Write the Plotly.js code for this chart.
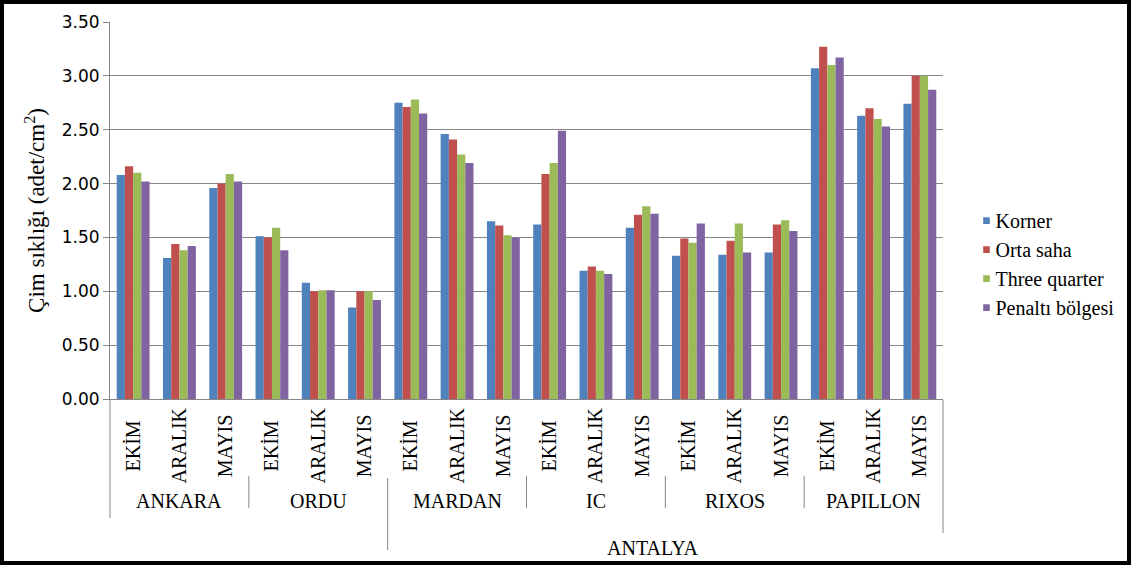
<!DOCTYPE html>
<html>
<head>
<meta charset="utf-8">
<script src="https://cdn.plot.ly/plotly-3.0.1.min.js"></script>
<style>
  html, body { margin: 0; padding: 0; background: #fff; }
  #wrap { position: relative; width: 1136px; height: 565px; }
  #chart { position: absolute; left: 0; top: 0; width: 1136px; height: 565px; }
  #frame { position: absolute; left: 0; top: 0; width: 1131px; height: 565px;
           box-sizing: border-box; border: 4px solid #000; pointer-events: none; }
</style>
</head>
<body>
<div id="wrap">
  <div id="chart"></div>
  <div id="frame"></div>
</div>
<script>
// Sampling sites and months
const locations = ['ANKARA', 'ORDU', 'MARDAN', 'IC', 'RIXOS', 'PAPILLON'];
const months = ['EKİM', 'ARALIK', 'MAYIS'];

// Sites belonging to the Antalya province
const provinceName = 'ANTALYA';
const provinceSites = ['MARDAN', 'IC', 'RIXOS', 'PAPILLON'];

// Grass density (adet/cm²) per site and month, by field zone
const korner  = [2.08, 1.31, 1.96, 1.51, 1.08, 0.85, 2.75, 2.46, 1.65, 1.62, 1.19, 1.59, 1.33, 1.34, 1.36, 3.07, 2.63, 2.74];
const ortaSaha = [2.16, 1.44, 2.00, 1.50, 1.00, 1.00, 2.71, 2.41, 1.61, 2.09, 1.23, 1.71, 1.49, 1.47, 1.62, 3.27, 2.70, 3.00];
const threeQuarter = [2.10, 1.38, 2.09, 1.59, 1.01, 1.00, 2.78, 2.27, 1.52, 2.19, 1.19, 1.79, 1.45, 1.63, 1.66, 3.10, 2.60, 3.00];
const penalti = [2.02, 1.42, 2.02, 1.38, 1.01, 0.92, 2.65, 2.19, 1.50, 2.49, 1.16, 1.72, 1.63, 1.36, 1.56, 3.17, 2.53, 2.87];

const seriesNames = ['Korner', 'Orta saha', 'Three quarter', 'Penaltı bölgesi'];
const seriesColors = ['#4F81BD', '#C0504D', '#9BBB59', '#8064A2'];
const seriesValues = [korner, ortaSaha, threeQuarter, penalti];

// One category per site/month pair; the axis shows only the month
const catKeys = [], catMonths = [];
locations.forEach(loc => months.forEach(m => { catKeys.push(loc + ' ' + m); catMonths.push(m); }));

const traces = seriesValues.map((vals, i) => ({
  type: 'bar',
  name: seriesNames[i],
  x: catKeys,
  y: vals,
  marker: { color: seriesColors[i], line: { width: 0 } },
  hoverinfo: 'y'
}));

// Axis area geometry in pixels (used to convert decorations to paper units)
const M = { l: 110, r: 193, t: 22, b: 166 };
const plotH = 565 - M.t - M.b;
const yPix = p => (565 - M.b - p) / plotH;   // pixel row -> paper y
const nCat = catKeys.length;
const xEdge = k => k / nCat;                 // category boundary -> paper x

const axisGrey = '#868686';
const serif = 'Liberation Serif';

// Divider lines under the category axis
const shapes = [];
function vline(k, top, bottom) {
  shapes.push({ type: 'line', xref: 'paper', yref: 'paper',
    x0: xEdge(k), x1: xEdge(k), y0: yPix(top), y1: yPix(bottom),
    line: { color: axisGrey, width: 1 } });
}
const nM = months.length;
const firstProv = nM * locations.indexOf(provinceSites[0]);
vline(0, 400, 518);
for (let g = 1; g < locations.length; g++) {
  const k = g * nM;
  if (k === firstProv) vline(k, 478, 550);
  else vline(k, 476, 508);
}
vline(nCat, 400, 533);

// Site labels under each month block, and the province label below them
const labelFont = { family: serif, size: 20, color: '#000' };
const annotations = locations.map((loc, g) => ({
  text: loc, xref: 'paper', yref: 'paper',
  x: (xEdge(g * nM) + xEdge((g + 1) * nM)) / 2, y: yPix(501),
  xanchor: 'center', yanchor: 'middle', showarrow: false, font: labelFont
}));
annotations.push({
  text: provinceName, xref: 'paper', yref: 'paper',
  x: (xEdge(firstProv) + xEdge(nCat)) / 2 - 0.015, y: yPix(548),
  xanchor: 'center', yanchor: 'middle', showarrow: false, font: labelFont
});

const layout = {
  width: 1136, height: 565,
  margin: M,
  font: { family: serif, color: '#000' },
  paper_bgcolor: '#fff', plot_bgcolor: '#fff',
  bargap: 0.29, bargroupgap: 0,
  barmode: 'group',
  showlegend: true,
  legend: {
    x: 1.015, xanchor: 'left', y: 0.525, yanchor: 'top',
    font: { family: serif, size: 20, color: '#000' },
    tracegroupgap: 0, itemwidth: 30
  },
  xaxis: {
    type: 'category',
    tickmode: 'array', tickvals: catKeys, ticktext: catMonths,
    showline: true, linecolor: axisGrey, linewidth: 1,
    ticks: '', tickangle: -90,
    tickfont: { family: serif, size: 20, color: '#000' },
    showgrid: false
  },
  yaxis: {
    range: [0, 3.5], dtick: 0.5, tickformat: '.2f',
    showline: true, linecolor: axisGrey, linewidth: 1,
    ticks: 'outside', ticklen: 6, tickcolor: axisGrey,
    gridcolor: axisGrey, gridwidth: 1,
    zeroline: false,
    tickfont: { family: 'DejaVu Sans', size: 17, color: '#000' },
    title: { text: 'Çim sıklığı (adet/cm<sup>2</sup>)', standoff: 10,
             font: { family: serif, size: 23, color: '#000' } }
  },
  shapes: shapes,
  annotations: annotations
};

Plotly.newPlot('chart', traces, layout, { displayModeBar: false, staticPlot: true }).then(gd => {
  // Smaller legend swatches placed close to their labels
  gd.querySelectorAll('.legend .legendpoints path').forEach(p => {
    p.setAttribute('transform', 'translate(31,0) scale(0.55)');
  });
  // Centre the vertical month labels within their row
  const ticks = Array.from(gd.querySelectorAll('.xtick text'));
  const lens = ticks.map(t => t.getBBox().width);
  const maxLen = Math.max(...lens);
  ticks.forEach((t, i) => {
    const d = (maxLen - lens[i]) / 2;
    const tr = t.getAttribute('transform') || '';
    t.setAttribute('transform', 'translate(0,' + d + ') ' + tr);
  });
});
</script>
</body>
</html>
